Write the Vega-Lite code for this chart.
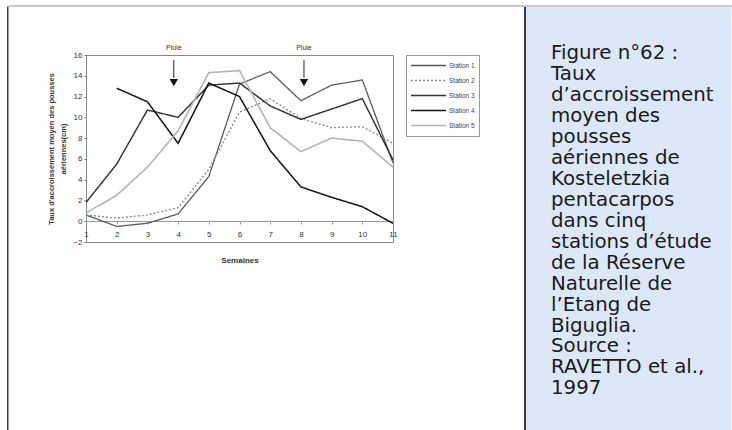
{
  "$schema": "https://vega.github.io/schema/vega-lite/v6.json",
  "background": "#ffffff",
  "padding": {"left": 7, "top": 5, "right": 0, "bottom": 0},
  "config": {
    "view": {"stroke": null},
    "axis": {"grid": false, "labelOverlap": false, "labelFont": "Liberation Sans", "titleFont": "Liberation Sans"},
    "legend": {"labelFont": "Liberation Sans"}
  },
  "spacing": 0,
  "resolve": {"legend": {"color": "independent", "strokeDash": "independent", "strokeWidth": "independent"}},
  "vconcat": [
    {"width": 725, "height": 2, "view": {"fill": "#c9c9c9", "stroke": null}, "data": {"values": []}, "mark": "point"},
    {
      "spacing": 38,
      "resolve": {"legend": {"color": "independent", "strokeDash": "independent", "strokeWidth": "independent"}},
      "hconcat": [
        {"width": 1.5, "height": 423, "view": {"fill": "#3a3a3a", "stroke": null}, "data": {"values": []}, "mark": "point"},
        {
          "spacing": 44,
          "resolve": {"legend": {"color": "independent", "strokeDash": "independent", "strokeWidth": "independent"}},
          "hconcat": [
            {
              "spacing": 0,
              "resolve": {"legend": {"color": "independent", "strokeDash": "independent", "strokeWidth": "independent"}},
              "vconcat": [
                {"width": 10, "height": 36, "data": {"values": []}, "mark": "point"},
                {
                  "width": 307,
                  "height": 187,
                  "view": {"stroke": "#8a8a8a", "strokeWidth": 1},
                  "layer": [
                    {
                      "data": {"values": [
                        {"station": "Station 1", "week": 1, "value": 0.6},
                        {"station": "Station 1", "week": 2, "value": -0.5},
                        {"station": "Station 1", "week": 3, "value": -0.2},
                        {"station": "Station 1", "week": 4, "value": 0.7},
                        {"station": "Station 1", "week": 5, "value": 4.3},
                        {"station": "Station 1", "week": 6, "value": 13.2},
                        {"station": "Station 1", "week": 7, "value": 14.4},
                        {"station": "Station 1", "week": 8, "value": 11.6},
                        {"station": "Station 1", "week": 9, "value": 13.1},
                        {"station": "Station 1", "week": 10, "value": 13.6},
                        {"station": "Station 1", "week": 11, "value": 5.6},
                        {"station": "Station 2", "week": 1, "value": 0.6},
                        {"station": "Station 2", "week": 2, "value": 0.3},
                        {"station": "Station 2", "week": 3, "value": 0.6},
                        {"station": "Station 2", "week": 4, "value": 1.3},
                        {"station": "Station 2", "week": 5, "value": 5.0},
                        {"station": "Station 2", "week": 6, "value": 10.5},
                        {"station": "Station 2", "week": 7, "value": 11.8},
                        {"station": "Station 2", "week": 8, "value": 9.9},
                        {"station": "Station 2", "week": 9, "value": 9.0},
                        {"station": "Station 2", "week": 10, "value": 9.1},
                        {"station": "Station 2", "week": 11, "value": 7.5},
                        {"station": "Station 3", "week": 1, "value": 1.8},
                        {"station": "Station 3", "week": 2, "value": 5.5},
                        {"station": "Station 3", "week": 3, "value": 10.7},
                        {"station": "Station 3", "week": 4, "value": 10.0},
                        {"station": "Station 3", "week": 5, "value": 13.1},
                        {"station": "Station 3", "week": 6, "value": 13.3},
                        {"station": "Station 3", "week": 7, "value": 11.1},
                        {"station": "Station 3", "week": 8, "value": 9.8},
                        {"station": "Station 3", "week": 9, "value": 10.8},
                        {"station": "Station 3", "week": 10, "value": 11.8},
                        {"station": "Station 3", "week": 11, "value": 5.9},
                        {"station": "Station 4", "week": 2, "value": 12.8},
                        {"station": "Station 4", "week": 3, "value": 11.5},
                        {"station": "Station 4", "week": 4, "value": 7.5},
                        {"station": "Station 4", "week": 5, "value": 13.3},
                        {"station": "Station 4", "week": 6, "value": 12.0},
                        {"station": "Station 4", "week": 7, "value": 6.8},
                        {"station": "Station 4", "week": 8, "value": 3.3},
                        {"station": "Station 4", "week": 9, "value": 2.3},
                        {"station": "Station 4", "week": 10, "value": 1.4},
                        {"station": "Station 4", "week": 11, "value": -0.2},
                        {"station": "Station 5", "week": 1, "value": 0.8},
                        {"station": "Station 5", "week": 2, "value": 2.5},
                        {"station": "Station 5", "week": 3, "value": 5.2},
                        {"station": "Station 5", "week": 4, "value": 8.7},
                        {"station": "Station 5", "week": 5, "value": 14.3},
                        {"station": "Station 5", "week": 6, "value": 14.5},
                        {"station": "Station 5", "week": 7, "value": 9.0},
                        {"station": "Station 5", "week": 8, "value": 6.7},
                        {"station": "Station 5", "week": 9, "value": 8.0},
                        {"station": "Station 5", "week": 10, "value": 7.7},
                        {"station": "Station 5", "week": 11, "value": 5.2}
                      ]},
                      "mark": {"type": "line"},
                      "encoding": {
                        "x": {"field": "week", "type": "quantitative", "scale": {"domain": [1, 11], "nice": false},
                          "axis": {"values": [1,2,3,4,5,6,7,8,9,10,11], "tickCount": 11, "format": "d", "offset": -21, "labelFlush": false, "labelOverlap": false,
                            "domainColor": "#9a9a9a", "tickColor": "#9a9a9a", "tickSize": 3, "labelPadding": 6,
                            "labelFontSize": 8, "labelColor": "#333", "title": "Semaines", "titleFontSize": 8,
                            "titleFontWeight": "bold", "titleColor": "#333", "titlePadding": 18}},
                        "y": {"field": "value", "type": "quantitative", "scale": {"domain": [-2, 16], "nice": false, "zero": false},
                          "axis": {"values": [-2,0,2,4,6,8,10,12,14,16], "tickCount": 10, "labelOverlap": false, "labelFlush": false, "domain": false, "tickSize": 2, "tickColor": "#777",
                            "labelPadding": 2, "labelFontSize": 8, "labelColor": "#333",
                            "title": ["Taux d'accroissement moyen des pousses", "aériennes(cm)"],
                            "titleFontSize": 7.5, "titleFontWeight": "bold", "titleColor": "#333", "titlePadding": 5, "titleLineHeight": 12}},
                        "color": {"field": "station", "type": "nominal",
                          "scale": {"domain": ["Station 1","Station 2","Station 3","Station 4","Station 5"], "range": ["#5a5a5a","#8c8c8c","#333333","#151515","#b4b4b4"]},
                          "legend": {"title": null, "orient": "right", "offset": 9, "symbolType": "stroke", "symbolSize": 1225,
                            "clipHeight": 13, "labelFontSize": 6.5, "labelColor": "#444", "labelOffset": 2, "strokeColor": "#9a9a9a", "padding": 4, "rowPadding": 2}},
                        "strokeDash": {"field": "station", "type": "nominal",
                          "scale": {"domain": ["Station 1","Station 2","Station 3","Station 4","Station 5"], "range": [[1,0],[2,2],[1,0],[1,0],[1,0]]},
                          "legend": {"title": null}},
                        "strokeWidth": {"field": "station", "type": "nominal",
                          "scale": {"domain": ["Station 1","Station 2","Station 3","Station 4","Station 5"], "range": [1.3,1.6,2.3,3,1.3]},
                          "legend": {"title": null}}
                      }
                    },
                    {
                      "data": {"values": [{"week": 3.86, "label": "Pluie"}, {"week": 8.1, "label": "Pluie"}]},
                      "layer": [
                        {"mark": {"type": "rule", "color": "#222", "strokeWidth": 1},
                          "encoding": {"x": {"field": "week", "type": "quantitative", "scale": {"domain": [1, 11], "nice": false}},
                            "y": {"datum": 15.5, "type": "quantitative", "scale": {"domain": [-2, 16], "nice": false, "zero": false}},
                            "y2": {"datum": 13.8}}},
                        {"mark": {"type": "point", "shape": "triangle-down", "filled": true, "color": "#111", "size": 70, "opacity": 1},
                          "encoding": {"x": {"field": "week", "type": "quantitative", "scale": {"domain": [1, 11], "nice": false}},
                            "y": {"datum": 13.35, "type": "quantitative", "scale": {"domain": [-2, 16], "nice": false, "zero": false}}}},
                        {"mark": {"type": "text", "fontSize": 7, "font": "Liberation Sans", "color": "#333"},
                          "encoding": {"x": {"field": "week", "type": "quantitative", "scale": {"domain": [1, 11], "nice": false}},
                            "y": {"datum": 16.7, "type": "quantitative", "scale": {"domain": [-2, 16], "nice": false, "zero": false}},
                            "text": {"field": "label"}}}
                      ]
                    }
                  ]
                }
              ]
            },
            {
              "spacing": 0,
              "hconcat": [
                {"width": 2, "height": 423, "view": {"fill": "#3a3a3a", "stroke": null}, "data": {"values": []}, "mark": "point"},
                {
                  "width": 205,
                  "height": 423,
                  "view": {"fill": "#dce8f7", "stroke": null},
                  "data": {"values": [
                    {"n": 1, "t": "Figure n°62 :"},
                    {"n": 2, "t": "Taux"},
                    {"n": 3, "t": "d’accroissement"},
                    {"n": 4, "t": "moyen des"},
                    {"n": 5, "t": "pousses"},
                    {"n": 6, "t": "aériennes de"},
                    {"n": 7, "t": "Kosteletzkia"},
                    {"n": 8, "t": "pentacarpos"},
                    {"n": 9, "t": "dans cinq"},
                    {"n": 10, "t": "stations d’étude"},
                    {"n": 11, "t": "de la Réserve"},
                    {"n": 12, "t": "Naturelle de"},
                    {"n": 13, "t": "l’Etang de"},
                    {"n": 14, "t": "Biguglia."},
                    {"n": 15, "t": "Source :"},
                    {"n": 16, "t": "RAVETTO et al.,"},
                    {"n": 17, "t": "1997"}
                  ]},
                  "mark": {"type": "text", "align": "left", "baseline": "middle", "font": "DejaVu Sans", "fontSize": 19.8, "color": "#1a1a1a"},
                  "encoding": {
                    "x": {"datum": 1, "type": "quantitative", "scale": {"domain": [0, 8.2], "nice": false, "zero": false}, "axis": null},
                    "y": {"field": "n", "type": "quantitative", "scale": {"domain": [-1.211, 18.99], "reverse": true, "nice": false, "zero": false}, "axis": null},
                    "text": {"field": "t"}
                  }
                }
              ]
            }
          ]
        }
      ]
    }
  ]
}
